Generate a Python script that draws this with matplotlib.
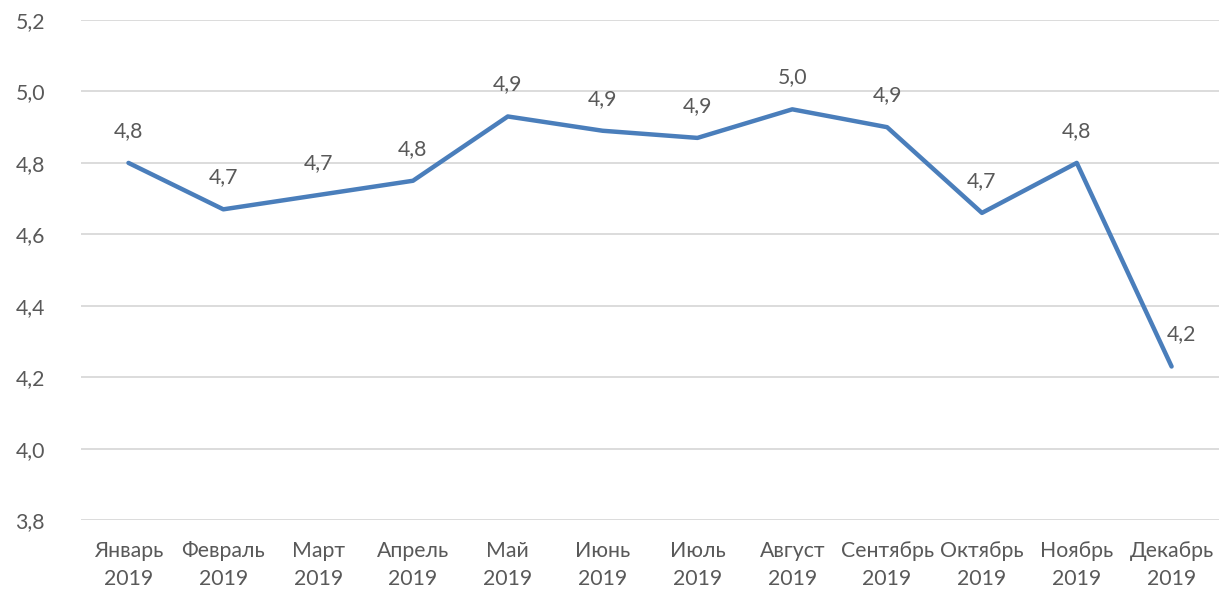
import matplotlib.pyplot as plt

months = ["Январь", "Февраль", "Март", "Апрель", "Май", "Июнь",
          "Июль", "Август", "Сентябрь", "Октябрь", "Ноябрь", "Декабрь"]
year = "2019"
values = [4.80, 4.67, 4.71, 4.75, 4.93, 4.89, 4.87, 4.95, 4.90, 4.66, 4.80, 4.23]
yticks = [3.8, 4.0, 4.2, 4.4, 4.6, 4.8, 5.0, 5.2]

text_color = "#595959"
fs = 15.3
plt.rcParams["font.family"] = ["Lato", "DejaVu Sans"]

fig = plt.figure(figsize=(12.19, 5.89), dpi=100)
ax = fig.add_axes([0.0665, 0.117, 0.9335, 0.849])

x = list(range(len(months)))
ax.plot(x, values, color="#4a7ebb", lw=3.2, solid_capstyle="round",
        solid_joinstyle="round", zorder=3)

for i, v in zip(x, values):
    # last label is nudged right, as in the original
    dx = 7 if i == len(values) - 1 else 0
    ax.annotate(f"{v:.1f}".replace(".", ","), (i, v), xytext=(dx, 23),
                textcoords="offset points", ha="center", va="center",
                fontsize=fs, color=text_color)

ax.set_xlim(-0.5, len(months) - 0.5)
ax.set_ylim(3.8, 5.2)
ax.set_yticks(yticks)
ax.set_yticklabels([f"{t:.1f}".replace(".", ",") for t in yticks])
ax.set_xticks(x)
ax.set_xticklabels([f"{m}\n{year}" for m in months], linespacing=1.5)
ax.tick_params(length=0, labelsize=fs, labelcolor=text_color)
ax.tick_params(axis="x", pad=15)
ax.tick_params(axis="y", pad=26)

ax.grid(axis="y", color="#d9d9d9", lw=1.3)
ax.set_axisbelow(True)
for s in ax.spines.values():
    s.set_visible(False)

fig.savefig("out.png", dpi=100)
